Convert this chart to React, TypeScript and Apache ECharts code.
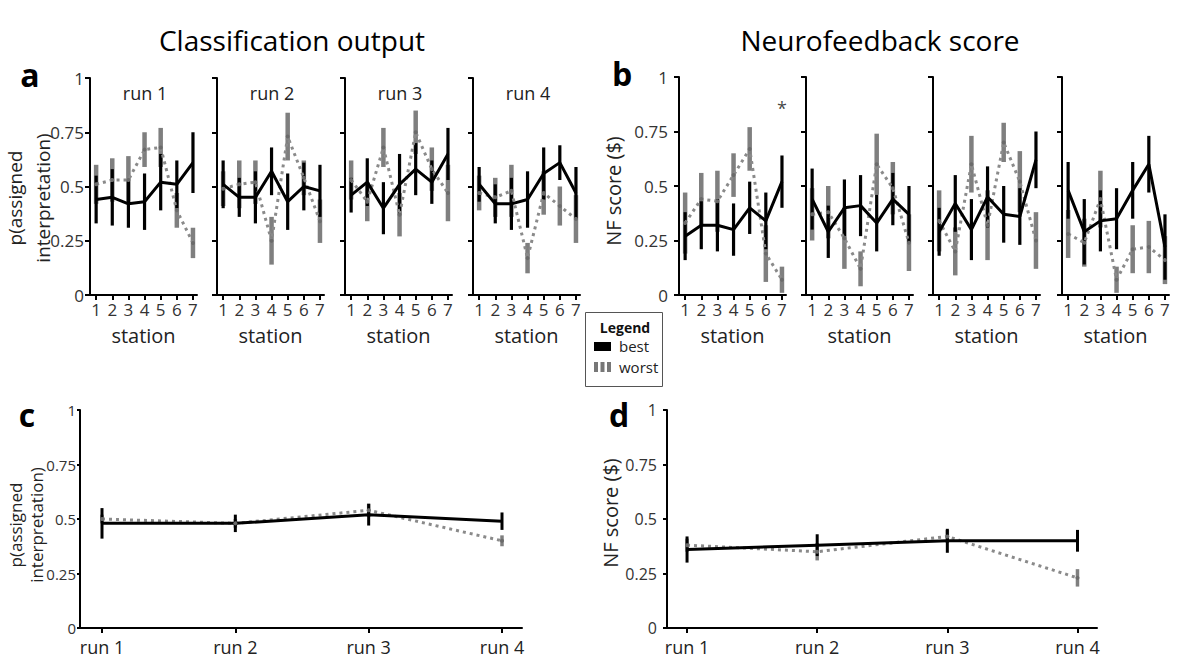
import React, { useEffect, useRef } from 'react';
import * as echarts from 'echarts';

// ---------- data ----------
const stations = [1, 2, 3, 4, 5, 6, 7];
const runs = [1, 2, 3, 4];
const runLabels = ['run 1', 'run 2', 'run 3', 'run 4'];
const yTicks = [0, 0.25, 0.5, 0.75, 1];

// Classification output (panel a), one row per run
const classBestMean = [
  [0.44, 0.45, 0.42, 0.43, 0.52, 0.51, 0.61],
  [0.51, 0.45, 0.45, 0.57, 0.43, 0.50, 0.48],
  [0.46, 0.52, 0.40, 0.51, 0.58, 0.52, 0.65],
  [0.51, 0.42, 0.42, 0.44, 0.56, 0.61, 0.47],
];
const classBestErr = [
  [0.11, 0.13, 0.11, 0.13, 0.13, 0.11, 0.14],
  [0.11, 0.09, 0.12, 0.11, 0.13, 0.11, 0.12],
  [0.08, 0.11, 0.12, 0.14, 0.12, 0.10, 0.12],
  [0.08, 0.09, 0.12, 0.13, 0.12, 0.08, 0.12],
];
const classWorstMean = [
  [0.51, 0.53, 0.53, 0.67, 0.68, 0.39, 0.24],
  [0.49, 0.51, 0.52, 0.25, 0.73, 0.54, 0.34],
  [0.53, 0.43, 0.68, 0.37, 0.75, 0.58, 0.47],
  [0.47, 0.45, 0.48, 0.17, 0.47, 0.41, 0.35],
];
const classWorstErr = [
  [0.09, 0.10, 0.11, 0.08, 0.09, 0.08, 0.07],
  [0.08, 0.11, 0.10, 0.11, 0.11, 0.08, 0.10],
  [0.09, 0.09, 0.09, 0.10, 0.10, 0.10, 0.13],
  [0.08, 0.09, 0.12, 0.07, 0.10, 0.09, 0.11],
];

// Neurofeedback score (panel b), one row per run
const nfBestMean = [
  [0.27, 0.32, 0.32, 0.30, 0.40, 0.34, 0.52],
  [0.44, 0.29, 0.40, 0.41, 0.33, 0.44, 0.37],
  [0.29, 0.42, 0.30, 0.45, 0.37, 0.36, 0.62],
  [0.48, 0.29, 0.34, 0.35, 0.48, 0.60, 0.22],
];
const nfBestErr = [
  [0.11, 0.11, 0.12, 0.12, 0.12, 0.13, 0.12],
  [0.14, 0.12, 0.13, 0.14, 0.13, 0.12, 0.13],
  [0.11, 0.13, 0.14, 0.14, 0.13, 0.13, 0.13],
  [0.13, 0.15, 0.14, 0.14, 0.13, 0.13, 0.15],
];
const nfWorstMean = [
  [0.33, 0.44, 0.43, 0.55, 0.67, 0.19, 0.07],
  [0.37, 0.38, 0.26, 0.12, 0.60, 0.49, 0.24],
  [0.34, 0.20, 0.60, 0.32, 0.70, 0.52, 0.25],
  [0.28, 0.24, 0.44, 0.07, 0.21, 0.22, 0.16],
];
const nfWorstErr = [
  [0.14, 0.12, 0.14, 0.10, 0.10, 0.13, 0.06],
  [0.12, 0.12, 0.14, 0.08, 0.14, 0.12, 0.13],
  [0.14, 0.11, 0.13, 0.16, 0.09, 0.14, 0.13],
  [0.11, 0.11, 0.13, 0.06, 0.11, 0.12, 0.11],
];

// Averages per run (panels c, d)
const classRunBestMean = [0.48, 0.48, 0.52, 0.49];
const classRunBestErr = [0.07, 0.04, 0.05, 0.04];
const classRunWorstMean = [0.50, 0.48, 0.54, 0.40];
const classRunWorstErr = [0.02, 0.02, 0.03, 0.025];
const nfRunBestMean = [0.36, 0.38, 0.40, 0.40];
const nfRunBestErr = [0.06, 0.05, 0.055, 0.05];
const nfRunWorstMean = [0.38, 0.35, 0.42, 0.23];
const nfRunWorstErr = [0.03, 0.04, 0.03, 0.04];

// significance marker (panel b, run 1, station 7)
const nfSignificance = [[7, 0.86]];

// ---------- styling ----------
const FONT = "'Open Sans', 'Noto Sans', sans-serif";
const BLACK = '#000';
const GRAY_LINE = '#8a8a8a';
const GRAY_BAR = 'rgba(95,95,95,0.8)';

const errBarSeries = (gi: number, xs: number[], mean: number[], err: number[], color: string, width: number) => ({
  type: 'custom',
  xAxisIndex: gi,
  yAxisIndex: gi,
  silent: true,
  data: xs.map((x, j) => [x, mean[j], err[j]]),
  encode: { x: 0, y: 1 },
  renderItem: (_params: any, api: any) => {
    const x = api.value(0);
    const m = api.value(1);
    const e = api.value(2);
    const top = api.coord([x, Math.min(1, m + e)]);
    const bot = api.coord([x, Math.max(0, m - e)]);
    return {
      type: 'line',
      shape: { x1: top[0], y1: top[1], x2: bot[0], y2: bot[1] },
      style: { stroke: color, lineWidth: width },
    };
  },
});

const worstLine = (gi: number, xs: number[], mean: number[]) => ({
  type: 'line',
  xAxisIndex: gi,
  yAxisIndex: gi,
  silent: true,
  data: xs.map((x, j) => [x, mean[j]]),
  lineStyle: { color: GRAY_LINE, width: 3, type: [3, 4] },
  symbol: 'circle',
  symbolSize: 4,
  showSymbol: true,
  itemStyle: { color: '#6a6a6a' },
});

const bestLine = (gi: number, xs: number[], mean: number[]) => ({
  type: 'line',
  xAxisIndex: gi,
  yAxisIndex: gi,
  silent: true,
  data: xs.map((x, j) => [x, mean[j]]),
  lineStyle: { color: BLACK, width: 3 },
  showSymbol: false,
  symbol: 'none',
});

const axisLine = { show: true, onZero: false, lineStyle: { color: BLACK, width: 2 } };

const stationXAxis = (gi: number) => ({
  type: 'value',
  gridIndex: gi,
  min: 0.62,
  max: 7.25,
  axisLine,
  axisTick: { show: true, customValues: stations, length: 5, lineStyle: { color: BLACK, width: 2 } },
  axisLabel: {
    customValues: stations,
    fontSize: 17,
    lineHeight: 17,
    color: '#333',
    margin: 6,
    fontFamily: FONT,
  },
  splitLine: { show: false },
  name: 'station',
  nameLocation: 'middle',
  nameGap: 30,
  nameTextStyle: { fontSize: 20, lineHeight: 20, color: '#222', fontFamily: FONT },
});

const runXAxis = (gi: number, min: number, max: number) => ({
  type: 'value',
  gridIndex: gi,
  min,
  max,
  axisLine,
  axisTick: { show: true, customValues: runs, length: 5, lineStyle: { color: BLACK, width: 2 } },
  axisLabel: {
    customValues: runs,
    formatter: (v: number) => runLabels[Math.round(v) - 1],
    fontSize: 18,
    color: '#222',
    margin: 10,
    fontFamily: FONT,
  },
  splitLine: { show: false },
});

const probYAxis = (gi: number, showLabel: boolean, margin: number, fontSize: number, tickLen: number) => ({
  type: 'value',
  gridIndex: gi,
  min: 0,
  max: 1,
  axisLine,
  axisTick: { show: true, customValues: yTicks, length: tickLen, lineStyle: { color: BLACK, width: 2 } },
  axisLabel: {
    show: showLabel,
    customValues: yTicks,
    fontSize,
    color: '#333',
    margin,
    fontFamily: FONT,
  },
  splitLine: { show: false },
});

const txt = (text: string, x: number, y: number, font: string, opts: any = {}) => ({
  type: 'text',
  x,
  y,
  rotation: opts.rotation || 0,
  silent: true,
  style: {
    text,
    font,
    fill: opts.fill || '#111',
    align: opts.align || 'center',
    verticalAlign: 'middle',
    textAlign: opts.align || 'center',
    textVerticalAlign: 'middle',
    lineHeight: opts.lineHeight,
  },
});

export default function App() {
  const ref = useRef<HTMLDivElement>(null);

  useEffect(() => {
    if (!ref.current) return;
    const chart = echarts.init(ref.current, null, { renderer: 'svg' });

    const aLefts = [90, 217, 345, 473];
    const bLefts = [679, 806, 933, 1062];
    const grids: any[] = [];
    const xAxes: any[] = [];
    const yAxes: any[] = [];
    const series: any[] = [];

    // panel a
    runs.forEach((_r, i) => {
      const gi = grids.length;
      grids.push({ left: aLefts[i], top: 78, width: 107, height: 217 });
      xAxes.push(stationXAxis(gi));
      yAxes.push(probYAxis(gi, i === 0, 6, 17, 5));
      series.push(errBarSeries(gi, stations, classWorstMean[i], classWorstErr[i], GRAY_BAR, 4.5));
      series.push(worstLine(gi, stations, classWorstMean[i]));
      series.push(errBarSeries(gi, stations, classBestMean[i], classBestErr[i], BLACK, 3.2));
      series.push(bestLine(gi, stations, classBestMean[i]));
    });
    // panel b
    runs.forEach((_r, i) => {
      const gi = grids.length;
      grids.push({ left: bLefts[i], top: 77, width: 107, height: 218 });
      xAxes.push(stationXAxis(gi));
      yAxes.push(probYAxis(gi, i === 0, 11, 17, 5));
      series.push(errBarSeries(gi, stations, nfWorstMean[i], nfWorstErr[i], GRAY_BAR, 4.5));
      series.push(worstLine(gi, stations, nfWorstMean[i]));
      series.push(errBarSeries(gi, stations, nfBestMean[i], nfBestErr[i], BLACK, 3.2));
      series.push(bestLine(gi, stations, nfBestMean[i]));
      if (i === 0) {
        series.push({
          type: 'scatter',
          xAxisIndex: gi,
          yAxisIndex: gi,
          silent: true,
          data: nfSignificance,
          symbolSize: 1,
          itemStyle: { color: 'rgba(0,0,0,0)' },
          label: { show: true, position: 'inside', formatter: '*', fontSize: 18, color: '#111', fontFamily: FONT },
        });
      }
    });
    // panel c
    {
      const gi = grids.length;
      grids.push({ left: 80, top: 410, width: 442, height: 218 });
      xAxes.push(runXAxis(gi, 0.835, 4.15));
      yAxes.push(probYAxis(gi, true, 4, 15, 3));
      series.push(errBarSeries(gi, runs, classRunWorstMean, classRunWorstErr, GRAY_BAR, 3.5));
      series.push(worstLine(gi, runs, classRunWorstMean));
      series.push(errBarSeries(gi, runs, classRunBestMean, classRunBestErr, BLACK, 3));
      series.push(bestLine(gi, runs, classRunBestMean));
    }
    // panel d
    {
      const gi = grids.length;
      grids.push({ left: 667, top: 410, width: 430, height: 218 });
      xAxes.push(runXAxis(gi, 0.846, 4.15));
      yAxes.push(probYAxis(gi, true, 10, 16, 4));
      series.push(errBarSeries(gi, runs, nfRunWorstMean, nfRunWorstErr, GRAY_BAR, 3.5));
      series.push(worstLine(gi, runs, nfRunWorstMean));
      series.push(errBarSeries(gi, runs, nfRunBestMean, nfRunBestErr, BLACK, 3));
      series.push(bestLine(gi, runs, nfRunBestMean));
    }

    const graphic: any[] = [
      txt('Classification output', 292, 40, `28px ${FONT}`, { fill: '#000' }),
      txt('Neurofeedback score', 880, 40, `28px ${FONT}`, { fill: '#000' }),
      txt('a', 30, 74, `bold 32px ${FONT}`, { fill: '#000' }),
      txt('b', 622, 73, `bold 32px ${FONT}`, { fill: '#000' }),
      txt('c', 27, 414, `bold 32px ${FONT}`, { fill: '#000' }),
      txt('d', 619, 414, `bold 32px ${FONT}`, { fill: '#000' }),
      txt('p(assigned\ninterpretation)', 29, 198, `19px ${FONT}`, { rotation: Math.PI / 2, lineHeight: 28, fill: '#222' }),
      txt('NF score ($)', 613, 191, `20px ${FONT}`, { rotation: Math.PI / 2, fill: '#222' }),
      txt('p(assigned\ninterpretation)', 26, 525, `17px ${FONT}`, { rotation: Math.PI / 2, lineHeight: 21, fill: '#222' }),
      txt('NF score ($)', 610, 513, `20px ${FONT}`, { rotation: Math.PI / 2, fill: '#222' }),
      // legend box
      {
        type: 'rect',
        silent: true,
        shape: { x: 585.5, y: 312.5, width: 77, height: 74 },
        style: { fill: '#fff', stroke: '#555', lineWidth: 1 },
      },
      txt('Legend', 625, 327, `bold 14px ${FONT}`, { fill: '#111' }),
      { type: 'rect', silent: true, shape: { x: 594, y: 342, width: 17, height: 9 }, style: { fill: '#000' } },
      txt('best', 619, 346, `15px ${FONT}`, { align: 'left', fill: '#222' }),
      { type: 'rect', silent: true, shape: { x: 594, y: 362, width: 4, height: 10 }, style: { fill: '#777' } },
      { type: 'rect', silent: true, shape: { x: 600.5, y: 362, width: 4, height: 10 }, style: { fill: '#777' } },
      { type: 'rect', silent: true, shape: { x: 607, y: 362, width: 4, height: 10 }, style: { fill: '#777' } },
      txt('worst', 619, 367, `15px ${FONT}`, { align: 'left', fill: '#222' }),
    ];
    runs.forEach((_r, i) => {
      graphic.push(txt(runLabels[i], aLefts[i] + 55, 93, `18px ${FONT}`, { fill: '#222' }));
    });

    chart.setOption({
      animation: false,
      backgroundColor: '#fff',
      grid: grids,
      xAxis: xAxes,
      yAxis: yAxes,
      series,
      graphic,
    });

    return () => chart.dispose();
  }, []);

  return (
    <div
      ref={ref}
      style={{ position: 'absolute', left: 0, top: 0, width: 1186, height: 665, background: '#fff' }}
    />
  );
}
